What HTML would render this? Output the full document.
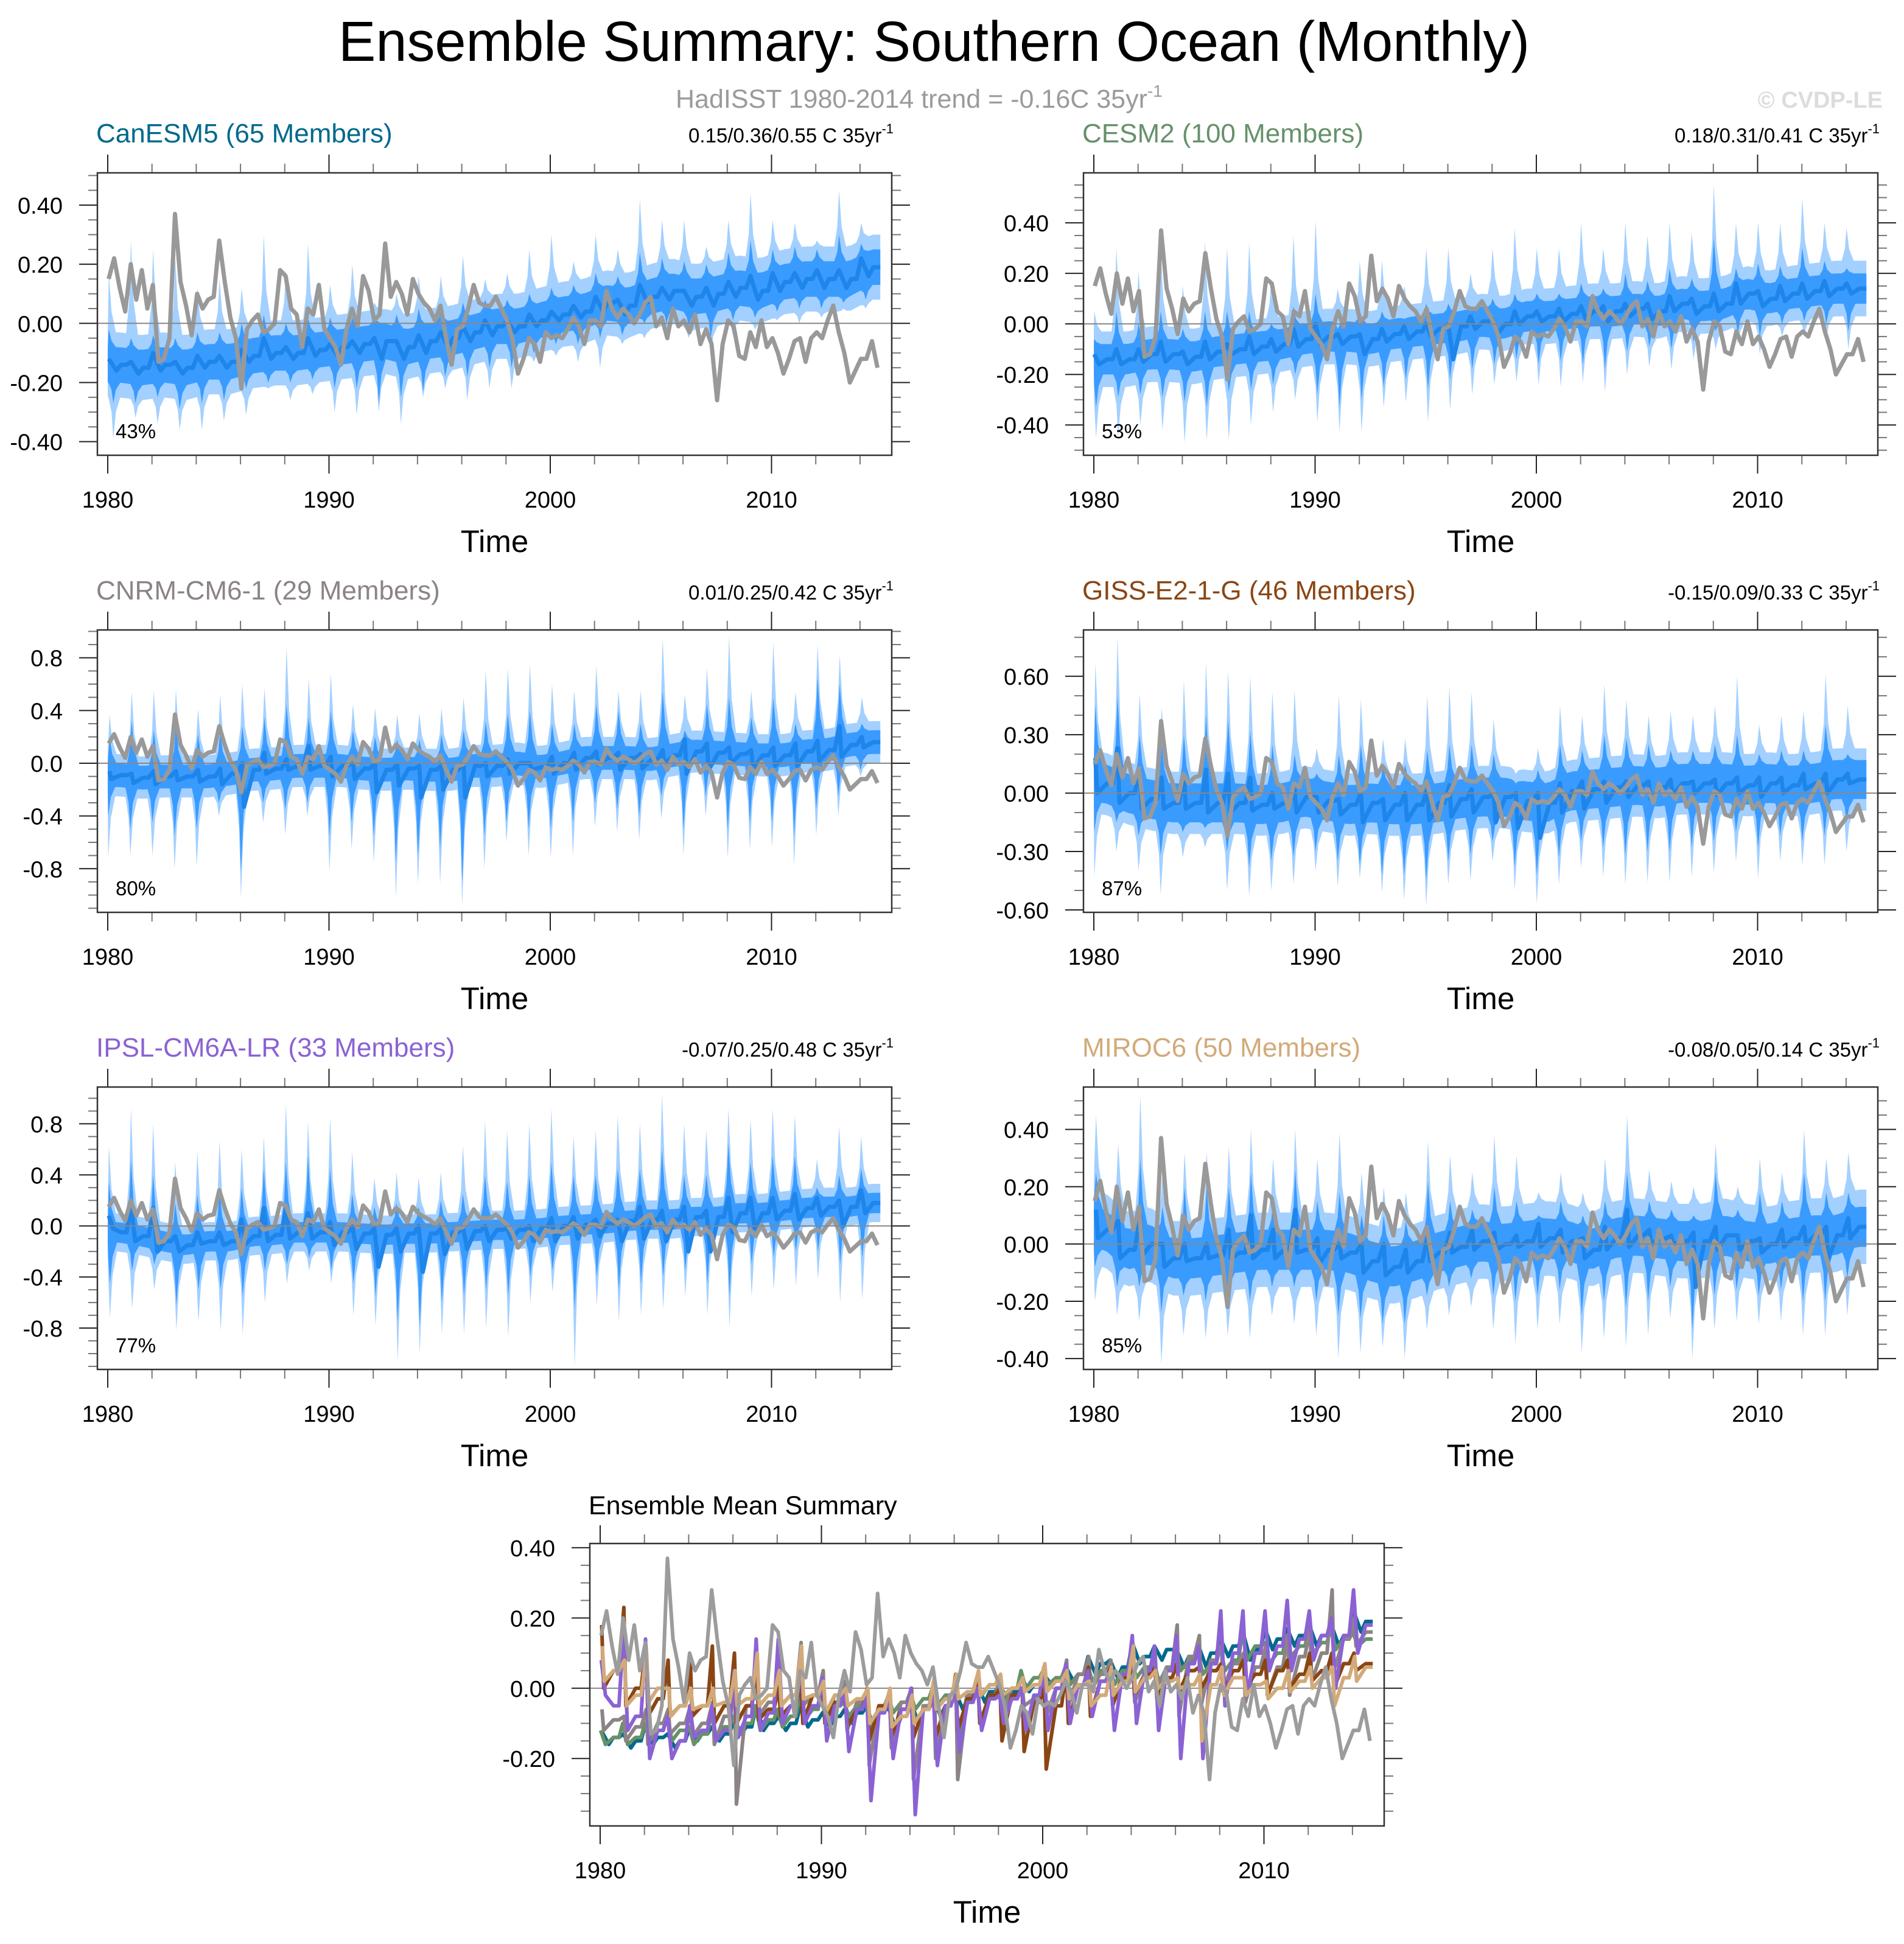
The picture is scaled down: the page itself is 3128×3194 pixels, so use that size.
<!DOCTYPE html>
<html><head><meta charset="utf-8"><title>Ensemble Summary: Southern Ocean (Monthly)</title>
<style>html,body{margin:0;padding:0;background:#fff}svg{display:block;font-family:"Liberation Sans",sans-serif}</style>
</head><body>
<svg id="chart" xmlns="http://www.w3.org/2000/svg" width="3128" height="3194" viewBox="0 0 3128 3194">
<rect width="3128" height="3194" fill="#fff"/>
<text x="556" y="100" font-size="93" fill="#000" textLength="1957" lengthAdjust="spacingAndGlyphs">Ensemble Summary: Southern Ocean (Monthly)</text>
<text x="1110" y="177" font-size="43" fill="#9a9a9a">HadISST 1980-2014 trend = -0.16C 35yr<tspan font-size="28" dy="-18">-1</tspan></text>
<text x="3093" y="177" font-size="38" font-weight="bold" fill="#dcdcdc" text-anchor="end">© CVDP-LE</text>
<g id="panels"></g>
</svg>
<script>
// Observed HadISST (quarterly, 1980.0 .. 2014.75)
const obsValues = [
0.15,0.22,0.12,0.04, 0.20,0.08,0.18,0.05, 0.13,-0.13,-0.12,-0.05, 0.37,0.14,0.06,-0.04,
0.10,0.05,0.08,0.09, 0.28,0.14,0.02,-0.05, -0.22,-0.02,0.01,0.03, -0.03,-0.02,0.00,0.18,
0.16,0.05,0.03,-0.08, 0.05,0.03,0.13,-0.02, -0.05,-0.08,-0.14,-0.02, 0.05,-0.01,0.16,0.11,
0.01,0.03,0.27,0.09, 0.14,0.10,0.03,0.15, 0.10,0.07,0.05,0.01, 0.06,-0.05,-0.14,-0.02,
-0.01,0.05,0.13,0.07, 0.06,0.06,0.09,0.05, 0.01,-0.05,-0.17,-0.12, -0.05,-0.07,-0.13,-0.03,
-0.05,-0.04,-0.05,-0.02, 0.02,-0.01,-0.07,0.01, 0.01,-0.01,0.11,0.05, 0.02,0.05,0.03,0.00,
0.03,0.07,0.09,-0.01, 0.02,-0.05,0.05,-0.01, 0.01,-0.03,0.03,-0.07, -0.02,-0.07,-0.26,-0.07,
0.01,-0.01,-0.11,-0.12, -0.03,-0.08,0.01,-0.08, -0.05,-0.10,-0.17,-0.12, -0.06,-0.05,-0.13,-0.05,
-0.03,-0.05,0.01,0.06, -0.03,-0.10,-0.20,-0.16, -0.12,-0.12,-0.06,-0.15];
const yearTicks = [1980,1990,2000,2010];

// CanESM5
const canesm5MeanBase=[-0.14,-0.15,-0.14,-0.15,-0.13,-0.13,-0.11,-0.10,-0.10,-0.09,-0.08,-0.07,-0.06,-0.08,-0.06,-0.05,-0.03,-0.01,-0.01,0.01,0.03,0.04,0.07,0.06,0.09,0.11,0.09,0.10,0.12,0.11,0.14,0.15,0.15,0.15,0.19];
const canesm5MeanPeak=[-0.12,-0.13,-0.10,-0.13,-0.11,-0.11,-0.09,-0.05,-0.08,-0.05,-0.07,-0.06,-0.05,-0.06,-0.04,-0.03,-0.01,0.01,0.01,0.03,0.04,0.06,0.09,0.08,0.13,0.12,0.11,0.12,0.14,0.16,0.17,0.17,0.18,0.18,0.22];
const canesm5MeanDip=[-0.16,-0.17,-0.16,-0.17,-0.15,-0.15,-0.13,-0.12,-0.12,-0.11,-0.11,-0.10,-0.12,-0.12,-0.10,-0.08,-0.06,-0.04,-0.03,-0.01,0.01,0.02,0.04,0.03,0.07,0.08,0.06,0.06,0.09,0.08,0.11,0.12,0.12,0.12,0.16];
const canesm5OuterHi=[0.17,0.28,0.25,0.22,0.12,0.15,0.12,0.30,0.18,0.27,0.13,0.20,0.07,0.10,0.16,0.16,0.23,0.15,0.17,0.25,0.30,0.21,0.30,0.25,0.42,0.35,0.35,0.26,0.35,0.44,0.35,0.34,0.28,0.45,0.34];
const canesm5OuterLo=[-0.39,-0.32,-0.34,-0.36,-0.36,-0.33,-0.31,-0.22,-0.26,-0.24,-0.30,-0.31,-0.30,-0.34,-0.25,-0.22,-0.26,-0.22,-0.22,-0.13,-0.11,-0.13,-0.15,-0.07,-0.05,-0.04,-0.05,-0.10,-0.04,-0.02,0.01,0.00,0.02,0.05,0.05];
const canesm5InnerHi=[-0.02,-0.05,-0.04,-0.05,-0.03,-0.03,0.0,0.03,0.0,0.02,0.02,0.02,0.03,0.03,0.05,0.05,0.07,0.08,0.08,0.10,0.12,0.13,0.17,0.16,0.24,0.22,0.21,0.20,0.24,0.28,0.25,0.26,0.25,0.30,0.27];
const canesm5InnerLo=[-0.27,-0.27,-0.25,-0.29,-0.27,-0.26,-0.22,-0.20,-0.20,-0.19,-0.22,-0.22,-0.27,-0.25,-0.23,-0.18,-0.18,-0.15,-0.15,-0.10,-0.07,-0.07,-0.05,-0.04,0.0,0.0,-0.01,-0.05,0.01,0.02,0.04,0.05,0.05,0.07,0.08];

// CESM2
const cesm2MeanBase=[-0.14,-0.14,-0.12,-0.12,-0.13,-0.11,-0.10,-0.09,-0.08,-0.06,-0.05,-0.05,-0.06,-0.04,-0.03,-0.02,-0.01,0.01,0.00,0.03,0.03,0.04,0.05,0.05,0.06,0.05,0.08,0.07,0.08,0.12,0.10,0.12,0.13,0.14,0.14];
const cesm2MeanPeak=[-0.12,-0.10,-0.10,-0.07,-0.11,-0.07,-0.08,-0.05,-0.06,-0.02,0.0,-0.04,-0.04,-0.02,-0.01,0.0,0.0,0.03,0.02,0.05,0.05,0.06,0.07,0.07,0.08,0.08,0.11,0.10,0.12,0.16,0.13,0.15,0.16,0.17,0.16];
const cesm2MeanDip=[-0.16,-0.16,-0.15,-0.15,-0.16,-0.14,-0.12,-0.12,-0.11,-0.09,-0.08,-0.08,-0.12,-0.07,-0.06,-0.05,-0.14,-0.02,-0.04,0.0,0.01,0.01,0.02,0.01,0.03,0.02,0.05,0.04,0.05,0.08,0.07,0.09,0.10,0.11,0.12];
const cesm2OuterHi=[0.05,0.30,0.21,0.30,0.15,0.33,0.30,0.32,0.18,0.35,0.41,0.14,0.25,0.25,0.15,0.30,0.30,0.20,0.30,0.38,0.30,0.30,0.40,0.30,0.40,0.35,0.40,0.36,0.55,0.40,0.40,0.40,0.50,0.40,0.38];
const cesm2OuterLo=[-0.45,-0.45,-0.40,-0.42,-0.47,-0.46,-0.46,-0.40,-0.35,-0.30,-0.39,-0.43,-0.43,-0.33,-0.31,-0.39,-0.34,-0.28,-0.24,-0.23,-0.24,-0.25,-0.23,-0.27,-0.20,-0.17,-0.18,-0.14,-0.10,-0.08,-0.12,-0.05,-0.05,-0.06,-0.10];
const cesm2InnerHi=[-0.06,0.05,0.0,0.05,-0.02,0.05,0.05,0.05,0.0,0.07,0.12,-0.02,0.05,0.05,0.02,0.08,0.08,0.05,0.10,0.12,0.12,0.12,0.16,0.14,0.20,0.17,0.22,0.18,0.34,0.22,0.24,0.23,0.30,0.25,0.22];
const cesm2InnerLo=[-0.33,-0.29,-0.28,-0.29,-0.31,-0.33,-0.27,-0.26,-0.24,-0.20,-0.28,-0.33,-0.30,-0.25,-0.22,-0.26,-0.22,-0.18,-0.16,-0.14,-0.16,-0.15,-0.16,-0.18,-0.11,-0.09,-0.10,-0.07,-0.03,-0.04,-0.05,0.0,0.01,0.0,-0.03];

// CNRM-CM6-1
const cnrmMeanBase=[-0.09,-0.11,-0.10,-0.10,-0.10,-0.08,-0.05,-0.04,-0.02,-0.02,-0.02,-0.04,-0.05,-0.04,-0.05,-0.05,-0.02,-0.02,0.0,-0.03,0.0,0.04,0.04,0.04,0.03,0.06,0.09,0.08,0.07,0.06,0.06,0.09,0.10,0.14,0.16];
const cnrmMeanPeak=[-0.06,-0.08,-0.06,-0.06,-0.05,-0.04,0.0,0.08,0.03,0.13,0.05,0.02,0.0,-0.01,-0.02,-0.02,0.0,0.0,0.03,0.0,0.05,0.08,0.09,0.08,0.07,0.10,0.18,0.15,0.12,0.10,0.12,0.15,0.17,0.28,0.20];
const cnrmMeanDip=[-0.12,-0.15,-0.16,-0.13,-0.14,-0.16,-0.33,-0.08,-0.05,-0.05,-0.10,-0.12,-0.22,-0.17,-0.26,-0.20,-0.26,-0.10,-0.08,-0.05,-0.08,-0.05,-0.01,-0.05,-0.04,0.0,-0.08,-0.05,0.0,-0.04,-0.02,-0.02,0.02,0.05,0.12];
const cnrmOuterHi=[0.37,0.54,0.55,0.56,0.41,0.52,0.60,0.57,0.88,0.64,0.68,0.45,0.42,0.37,0.38,0.42,0.50,0.70,0.72,0.75,0.60,0.55,0.74,0.55,0.55,0.95,0.52,0.72,0.96,0.55,0.92,0.54,0.90,0.82,0.50];
const cnrmOuterLo=[-0.72,-0.70,-0.70,-0.80,-0.78,-0.40,-1.02,-0.45,-0.54,-0.40,-0.82,-0.65,-0.75,-1.02,-0.92,-0.92,-1.08,-0.80,-0.60,-0.70,-0.72,-0.70,-0.48,-0.52,-0.58,-0.42,-0.70,-0.40,-0.72,-0.66,-0.64,-0.78,-0.55,-0.40,-0.10];
const cnrmInnerHi=[0.20,0.32,0.25,0.30,0.22,0.25,0.28,0.35,0.45,0.35,0.40,0.25,0.20,0.18,0.18,0.22,0.25,0.32,0.38,0.40,0.30,0.30,0.45,0.40,0.30,0.55,0.25,0.45,0.50,0.35,0.50,0.30,0.65,0.60,0.30];
const cnrmInnerLo=[-0.40,-0.50,-0.45,-0.55,-0.50,-0.30,-0.82,-0.30,-0.35,-0.30,-0.55,-0.45,-0.55,-0.75,-0.70,-0.65,-0.90,-0.55,-0.45,-0.50,-0.50,-0.45,-0.30,-0.35,-0.40,-0.25,-0.50,-0.25,-0.50,-0.45,-0.45,-0.55,-0.35,-0.25,-0.05];

// GISS-E2-1-G
const gissMeanBase=[0.05,0.0,-0.03,-0.05,-0.05,-0.05,-0.05,-0.06,-0.05,-0.02,-0.04,-0.06,-0.05,-0.06,-0.06,-0.05,-0.03,-0.02,-0.02,-0.04,-0.05,0.01,0.02,0.03,0.04,0.03,0.05,0.05,0.05,0.04,0.05,0.04,0.05,0.07,0.07];
const gissMeanPeak=[0.18,0.23,0.12,0.08,0.09,0.12,0.10,0.08,0.0,0.02,-0.02,-0.03,0.0,-0.03,0.0,0.02,0.04,0.02,0.0,0.0,0.0,0.05,0.06,0.06,0.06,0.06,0.07,0.06,0.07,0.08,0.08,0.08,0.10,0.10,0.10];
const gissMeanDip=[0.0,-0.05,-0.08,-0.08,-0.08,-0.10,-0.10,-0.09,-0.08,-0.10,-0.10,-0.11,-0.15,-0.14,-0.14,-0.14,-0.12,-0.10,-0.15,-0.18,-0.23,-0.10,-0.08,-0.05,-0.02,-0.03,-0.01,0.0,-0.01,0.0,-0.02,0.0,0.02,0.0,0.05];
const gissOuterHi=[0.67,0.80,0.51,0.44,0.58,0.67,0.63,0.60,0.52,0.53,0.23,0.50,0.48,0.28,0.28,0.50,0.55,0.52,0.38,0.10,0.23,0.45,0.40,0.56,0.48,0.40,0.42,0.40,0.45,0.60,0.35,0.40,0.42,0.61,0.45];
const gissOuterLo=[-0.43,-0.30,-0.40,-0.52,-0.33,-0.28,-0.50,-0.53,-0.50,-0.47,-0.40,-0.48,-0.44,-0.51,-0.55,-0.58,-0.47,-0.45,-0.35,-0.50,-0.57,-0.47,-0.38,-0.43,-0.47,-0.46,-0.46,-0.43,-0.41,-0.35,-0.44,-0.35,-0.37,-0.37,-0.30];
const gissInnerHi=[0.45,0.50,0.30,0.25,0.30,0.40,0.38,0.32,0.25,0.20,0.10,0.20,0.25,0.15,0.15,0.22,0.25,0.25,0.20,0.05,0.12,0.25,0.22,0.30,0.28,0.25,0.22,0.22,0.25,0.30,0.20,0.22,0.22,0.35,0.20];
const gissInnerLo=[-0.20,-0.15,-0.22,-0.32,-0.20,-0.18,-0.30,-0.38,-0.35,-0.33,-0.30,-0.35,-0.37,-0.42,-0.42,-0.45,-0.35,-0.32,-0.25,-0.38,-0.42,-0.33,-0.25,-0.28,-0.32,-0.30,-0.30,-0.28,-0.25,-0.20,-0.28,-0.22,-0.25,-0.22,-0.15];

// IPSL-CM6A-LR
const ipslMeanBase=[-0.05,-0.08,-0.12,-0.15,-0.12,-0.12,-0.08,-0.07,-0.05,-0.05,-0.05,-0.06,-0.07,-0.06,-0.06,-0.05,-0.04,-0.03,-0.03,-0.02,0.0,0.01,0.02,0.04,0.05,0.05,0.07,0.07,0.10,0.10,0.12,0.14,0.15,0.15,0.18];
const ipslMeanPeak=[0.08,0.16,0.14,-0.08,-0.05,-0.05,0.05,0.14,0.14,0.10,0.03,0.0,-0.02,-0.02,0.0,-0.02,0.0,0.0,-0.02,0.0,0.06,0.07,0.05,0.05,0.15,0.12,0.15,0.12,0.22,0.22,0.22,0.25,0.22,0.20,0.28];
const ipslMeanDip=[-0.02,-0.12,-0.20,-0.20,-0.14,-0.15,-0.14,-0.12,-0.10,-0.10,-0.15,-0.18,-0.32,-0.20,-0.36,-0.22,-0.18,-0.12,-0.10,-0.12,-0.12,-0.10,-0.08,-0.12,-0.10,-0.12,-0.20,-0.20,-0.05,-0.02,0.05,0.05,0.08,0.0,0.10];
const ipslOuterHi=[0.63,0.92,0.80,0.50,0.58,0.67,0.60,0.70,0.96,0.82,0.85,0.58,0.38,0.42,0.38,0.42,0.63,0.82,0.75,0.80,0.92,0.70,0.75,0.87,0.80,1.03,0.80,0.75,0.92,0.84,0.92,0.87,0.52,0.78,0.70];
const ipslOuterLo=[-0.72,-0.65,-0.50,-0.82,-0.75,-0.82,-0.85,-0.60,-0.45,-0.35,-0.45,-0.70,-0.78,-1.06,-1.00,-0.85,-0.85,-0.80,-0.87,-0.60,-0.52,-1.10,-0.62,-0.75,-0.70,-0.65,-0.55,-0.70,-0.80,-0.55,-0.50,-0.47,-0.42,-0.60,-0.58];
const ipslInnerHi=[0.35,0.52,0.40,0.18,0.25,0.30,0.30,0.45,0.50,0.55,0.45,0.25,0.15,0.18,0.15,0.20,0.25,0.40,0.35,0.40,0.50,0.40,0.40,0.45,0.45,0.60,0.40,0.40,0.65,0.50,0.55,0.55,0.30,0.40,0.45];
const ipslInnerLo=[-0.45,-0.35,-0.30,-0.62,-0.50,-0.50,-0.55,-0.35,-0.30,-0.25,-0.35,-0.45,-0.55,-0.75,-0.78,-0.60,-0.55,-0.50,-0.55,-0.40,-0.35,-0.65,-0.40,-0.50,-0.45,-0.40,-0.35,-0.45,-0.55,-0.30,-0.25,-0.20,-0.20,-0.30,-0.25];

// MIROC6
const mirocMeanBase=[0.05,-0.02,0.0,-0.05,-0.05,-0.04,-0.03,-0.02,-0.02,-0.02,-0.02,-0.03,-0.06,-0.08,-0.06,-0.03,-0.01,0.01,0.0,0.01,0.02,0.01,-0.02,0.02,0.03,0.02,0.01,0.01,0.03,0.01,0.0,0.02,0.03,0.03,0.06];
const mirocMeanPeak=[0.12,0.08,0.10,0.0,0.0,0.0,0.05,0.10,0.05,0.12,0.02,0.0,0.0,0.0,-0.02,0.03,0.04,0.05,0.04,0.03,0.07,0.05,0.02,0.06,0.12,0.05,0.03,0.04,0.06,0.03,0.02,0.05,0.06,0.06,0.09];
const mirocMeanDip=[0.02,-0.05,-0.04,-0.08,-0.06,-0.05,-0.05,-0.05,-0.05,-0.03,-0.07,-0.05,-0.10,-0.11,-0.10,-0.06,-0.03,-0.02,-0.02,-0.01,-0.01,-0.03,-0.05,-0.02,-0.01,0.0,0.0,-0.15,-0.02,-0.02,-0.03,-0.01,0.0,-0.05,0.02];
const mirocOuterHi=[0.45,0.35,0.52,0.25,0.32,0.32,0.34,0.40,0.30,0.40,0.30,0.39,0.25,0.20,0.18,0.36,0.31,0.25,0.38,0.31,0.18,0.25,0.18,0.30,0.45,0.26,0.22,0.20,0.35,0.20,0.30,0.25,0.40,0.30,0.32];
const mirocOuterLo=[-0.20,-0.25,-0.27,-0.42,-0.32,-0.33,-0.32,-0.33,-0.25,-0.28,-0.32,-0.40,-0.38,-0.36,-0.40,-0.30,-0.25,-0.22,-0.30,-0.35,-0.30,-0.28,-0.38,-0.33,-0.36,-0.32,-0.26,-0.40,-0.30,-0.27,-0.28,-0.27,-0.32,-0.32,-0.25];
const mirocInnerHi=[0.25,0.20,0.30,0.13,0.20,0.20,0.20,0.25,0.15,0.26,0.15,0.18,0.10,0.10,0.08,0.22,0.15,0.12,0.20,0.15,0.10,0.15,0.10,0.15,0.25,0.15,0.12,0.10,0.25,0.12,0.18,0.15,0.25,0.18,0.18];
const mirocInnerLo=[-0.08,-0.15,-0.15,-0.24,-0.18,-0.20,-0.20,-0.20,-0.15,-0.15,-0.20,-0.25,-0.26,-0.28,-0.28,-0.18,-0.15,-0.12,-0.18,-0.20,-0.18,-0.16,-0.25,-0.20,-0.22,-0.20,-0.15,-0.30,-0.18,-0.16,-0.18,-0.16,-0.20,-0.20,-0.12];

const NS="http://www.w3.org/2000/svg";
const root=document.getElementById('panels');
function mk(tag,attrs,parent){const e=document.createElementNS(NS,tag);for(const k in attrs)e.setAttribute(k,attrs[k]);(parent||root).appendChild(e);return e;}

const BOXW=1305,BOXH=464,X1980=17,PXY=36.35,TEND=2014.917;

const models=[
 {key:'canesm5',title:'CanESM5 (65 Members)',color:'#00698c',stat:'0.15/0.36/0.55 C 35yr',pct:'43%',left:160,top:284,ymin:-0.446,ymax:0.509,majors:[-0.4,-0.2,0,0.2,0.4],dec:2,minor:0.05,oW:0.11,iW:0.06,hp:0.05,lp:0.25,
  mb:canesm5MeanBase,mp:canesm5MeanPeak,md:canesm5MeanDip,oh:canesm5OuterHi,ol:canesm5OuterLo,ih:canesm5InnerHi,il:canesm5InnerLo},
 {key:'cesm2',title:'CESM2 (100 Members)',color:'#66916a',stat:'0.18/0.31/0.41 C 35yr',pct:'53%',left:1780,top:284,ymin:-0.52,ymax:0.598,majors:[-0.4,-0.2,0,0.2,0.4],dec:2,minor:0.05,oW:0.11,iW:0.06,hp:0.02,lp:0.1,
  mb:cesm2MeanBase,mp:cesm2MeanPeak,md:cesm2MeanDip,oh:cesm2OuterHi,ol:cesm2OuterLo,ih:cesm2InnerHi,il:cesm2InnerLo},
 {key:'cnrm',title:'CNRM-CM6-1 (29 Members)',color:'#8c8484',stat:'0.01/0.25/0.42 C 35yr',pct:'80%',left:160,top:1035,ymin:-1.131,ymax:1.011,majors:[-0.8,-0.4,0,0.4,0.8],dec:1,minor:0.1,oW:0.16,iW:0.09,hp:0.08,lp:0.02,
  mb:cnrmMeanBase,mp:cnrmMeanPeak,md:cnrmMeanDip,oh:cnrmOuterHi,ol:cnrmOuterLo,ih:cnrmInnerHi,il:cnrmInnerLo},
 {key:'giss',title:'GISS-E2-1-G (46 Members)',color:'#8b4513',stat:'-0.15/0.09/0.33 C 35yr',pct:'87%',left:1780,top:1035,ymin:-0.6125,ymax:0.838,majors:[-0.6,-0.3,0,0.3,0.6],dec:2,minor:0.1,oW:0.16,iW:0.10,hp:0.07,lp:0.02,
  mb:gissMeanBase,mp:gissMeanPeak,md:gissMeanDip,oh:gissOuterHi,ol:gissOuterLo,ih:gissInnerHi,il:gissInnerLo},
 {key:'ipsl',title:'IPSL-CM6A-LR (33 Members)',color:'#8b62d4',stat:'-0.07/0.25/0.48 C 35yr',pct:'77%',left:160,top:1786,ymin:-1.124,ymax:1.088,majors:[-0.8,-0.4,0,0.4,0.8],dec:1,minor:0.1,oW:0.15,iW:0.08,hp:0.05,lp:0.1,
  mb:ipslMeanBase,mp:ipslMeanPeak,md:ipslMeanDip,oh:ipslOuterHi,ol:ipslOuterLo,ih:ipslInnerHi,il:ipslInnerLo},
 {key:'miroc',title:'MIROC6 (50 Members)',color:'#d2aa7a',stat:'-0.08/0.05/0.14 C 35yr',pct:'85%',left:1780,top:1786,ymin:-0.438,ymax:0.548,majors:[-0.4,-0.2,0,0.2,0.4],dec:2,minor:0.05,oW:0.13,iW:0.07,hp:0.1,lp:0.05,
  mb:mirocMeanBase,mp:mirocMeanPeak,md:mirocMeanDip,oh:mirocOuterHi,ol:mirocOuterLo,ih:mirocInnerHi,il:mirocInnerLo}
];

function axes(P){
  const xs=t=>P.left+X1980+(t-1980)*PXY;
  const ys=v=>P.top+(P.ymax-v)/(P.ymax-P.ymin)*BOXH;
  return {xs,ys};
}
function clampV(P,v){return Math.max(P.ymin,Math.min(P.ymax,v));}
function baseAt(mb,t){
  const u=t-1980-0.5; if(u<=0)return mb[0]; if(u>=mb.length-1)return mb[mb.length-1];
  const i=Math.floor(u),f=u-i; return mb[i]*(1-f)+mb[i+1]*f;
}
function bandEdge(mb,spike,w,ph,sign){
  const pts=[];
  for(let i=0;i<mb.length;i++){
    const t0=1980+i;
    [[t0+ph-0.22,null],[t0+ph-0.08,'m'],[t0+ph,spike[i]],[t0+ph+0.12,'m'],[t0+ph+0.32,null],[t0+ph+0.55,null]].forEach(([t,v])=>{
      if(t<1980||t>TEND)return;
      let val;
      if(v===null)val=baseAt(mb,t)+sign*w;
      else if(v==='m'){const b=baseAt(mb,t)+sign*w;val=b+(spike[i]-b)*0.35;}
      else val=v;
      pts.push([t,val]);
    });
  }
  pts.push([1980,baseAt(mb,1980)+sign*w]);
  pts.push([TEND,baseAt(mb,TEND)+sign*w]);
  pts.sort((a,b)=>a[0]-b[0]);
  return pts;
}
function meanPts(m){
  const pts=[];
  for(let i=0;i<m.mb.length;i++){
    const t0=1980+i;
    [[t0+m.hp,m.mp[i]],[t0+m.lp+0.14,m.md[i]],[t0+0.6,m.mb[i]],[t0+0.85,m.mb[i]]].forEach(([t,v])=>{if(t>=1980&&t<=TEND)pts.push([t,v]);});
  }
  pts.push([TEND,m.mb[m.mb.length-1]]);
  pts.sort((a,b)=>a[0]-b[0]);
  return pts;
}
function obsPts(){return obsValues.map((v,k)=>[1980+k*0.25+0.04,v]);}
function toPath(P,pts){const {xs,ys}=axes(P);return pts.map((p,i)=>(i?'L':'M')+xs(p[0]).toFixed(1)+' '+ys(clampV(P,p[1])).toFixed(1)).join(' ');}

function drawFrame(P,g){
  const {xs,ys}=axes(P);
  const R=P.left+BOXW,B=P.top+BOXH;
  const start=Math.ceil((P.ymin+1e-6)/P.minor),end=Math.floor((P.ymax-1e-6)/P.minor);
  for(let k=start;k<=end;k++){
    const v=k*P.minor,y=ys(v);
    const major=P.majors.some(m=>Math.abs(m-v)<1e-6);
    const len=major?30:15;
    const tl=mk('line',{x1:P.left-len,x2:P.left,y1:y,y2:y,stroke:major?'#222':'#777','stroke-width':2},g);
    
    
    const tr=mk('line',{x1:R,x2:R+len,y1:y,y2:y,stroke:major?'#222':'#777','stroke-width':2},g);
    
    
  }
  P.majors.forEach(v=>{
    if(v<P.ymin||v>P.ymax)return;
    const lab=mk('text',{x:P.left-57,y:ys(v)+14,'font-size':38,'text-anchor':'end',fill:'#000'},g);
    lab.textContent=v.toFixed(P.dec);
    
    
  });
  for(let yr=1980;yr<=2014;yr+=2){
    const x=xs(yr),major=yr%10===0,len=major?30:15;
    const a=mk('line',{x1:x,x2:x,y1:P.top-len,y2:P.top,stroke:major?'#222':'#777','stroke-width':2},g);
    
    
    const b=mk('line',{x1:x,x2:x,y1:B,y2:B+len,stroke:major?'#222':'#777','stroke-width':2},g);
    
    
  }
  yearTicks.forEach(yr=>{
    const lab=mk('text',{x:xs(yr),y:B+86,'font-size':38,'text-anchor':'middle',fill:'#000'},g);
    lab.textContent=String(yr);
    
    
  });
  const xt=mk('text',{x:P.left+BOXW/2,y:B+159,'font-size':51,'text-anchor':'middle',fill:'#000'},g);
  xt.textContent='Time';
  
  
  const z=mk('line',{x1:P.left,x2:R,y1:ys(0),y2:ys(0),stroke:'#888','stroke-width':2},g);
  
  
}
function drawBorder(P,g){
  const r=mk('rect',{x:P.left,y:P.top,width:BOXW,height:BOXH,fill:'none',stroke:'#333','stroke-width':2.5},g);
  
  
}

models.forEach(m=>{
  const g=mk('g',{});
  
  
  const clipId='clip-'+m.key;
  const cp=mk('clipPath',{id:clipId},g);mk('rect',{x:m.left,y:m.top,width:BOXW,height:BOXH},cp);
  const data=mk('g',{'clip-path':'url(#'+clipId+')'},g);
  const oUp=bandEdge(m.mb,m.oh,m.oW,m.hp,1),oDn=bandEdge(m.mb,m.ol,m.oW,m.lp,-1);
  const outer=mk('path',{d:toPath(m,oUp.concat(oDn.slice().reverse()))+' Z',fill:'#a3d0ff',stroke:'none'},data);
  
  
  const iUp=bandEdge(m.mb,m.ih,m.iW,m.hp,1),iDn=bandEdge(m.mb,m.il,m.iW,m.lp,-1);
  const inner=mk('path',{d:toPath(m,iUp.concat(iDn.slice().reverse()))+' Z',fill:'#3a9bff',stroke:'none'},data);
  
  
  drawFrame(m,g);
  const mean=mk('path',{d:toPath(m,meanPts(m)),fill:'none',stroke:'#1e85ea','stroke-width':7,'stroke-linejoin':'round'},data);
  
  
  const obs=mk('path',{d:toPath(m,obsPts()),fill:'none',stroke:'#999','stroke-width':7,'stroke-linejoin':'round'},data);
  
  
  drawBorder(m,g);
  const tt=mk('text',{x:m.left-2,y:m.top-50,'font-size':44,fill:m.color},g);
  tt.textContent=m.title;
  
  
  const st=mk('text',{x:m.left+BOXW+3,y:m.top-50,'font-size':33,'text-anchor':'end',fill:'#000'},g);
  
  
  st.appendChild(document.createTextNode(m.stat));
  const sup=mk('tspan',{'font-size':22,dy:-15},st);sup.textContent='-1';
  const pc=mk('text',{x:m.left+30,y:m.top+BOXH-28,'font-size':33,fill:'#000'},g);
  pc.textContent=m.pct;
  
  
});

const S={key:'summary',left:969,top:2536,ymin:-0.392,ymax:0.412,majors:[-0.2,0,0.2,0.4],dec:2,minor:0.05};
(function(){
  const g=mk('g',{});
  
  
  const cp=mk('clipPath',{id:'clip-summary'},g);mk('rect',{x:S.left,y:S.top,width:BOXW,height:BOXH},cp);
  drawFrame(S,g);
  const data=mk('g',{'clip-path':'url(#clip-summary)'},g);
  models.forEach(m=>{
    const l=mk('path',{d:toPath(S,meanPts(m)),fill:'none',stroke:m.color,'stroke-width':6,'stroke-linejoin':'round'},data);
    
    
  });
  const o=mk('path',{d:toPath(S,obsPts()),fill:'none',stroke:'#9c9c9c','stroke-width':6,'stroke-linejoin':'round'},data);
  
  
  drawBorder(S,g);
  const t=mk('text',{x:S.left-2,y:S.top-48,'font-size':43,fill:'#000'},g);
  t.textContent='Ensemble Mean Summary';
  
  
})();
</script>
</body></html>
